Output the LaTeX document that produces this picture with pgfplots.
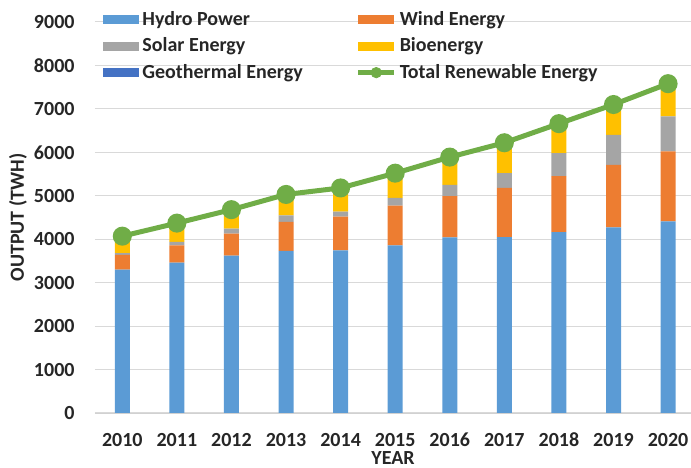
\documentclass[border=0pt]{standalone}
\usepackage{pgfplots}
\pgfplotsset{compat=1.18}
\usepackage{fontspec}
\setmainfont{Carlito}
\definecolor{hydro}{HTML}{5B9BD5}
\definecolor{wind}{HTML}{ED7D31}
\definecolor{solar}{HTML}{A5A5A5}
\definecolor{bio}{HTML}{FFC000}
\definecolor{geo}{HTML}{4472C4}
\definecolor{tot}{HTML}{70AD47}
\pgfplotsset{
  common/.style={
    scale only axis,
    width=298pt, height=195.5pt,
    xmin=-0.5, xmax=10.42,
    ymin=0, ymax=9000,
  }
}
\begin{document}
\begin{tikzpicture}
\begin{axis}[
  common, name=main,
  ytick={0,1000,...,9000},
  xtick={0,...,10},
  xticklabels={2010,2011,2012,2013,2014,2015,2016,2017,2018,2019,2020},
  /pgf/number format/assume math mode=true,
  /pgf/number format/1000 sep={},
  ticklabel style={font=\fontsize{10}{12}\selectfont\bfseries, text=black!85},
  yticklabel style={xshift=-6.7pt},
  xticklabel style={yshift=-6.5pt},
  ymajorgrids, grid style={black!15, line width=0.5pt},
  axis line style={draw=none},
  tick style={draw=none},
  x axis line style={draw=black!18},
  axis x line*=bottom,
  axis y line*=left,
  ylabel={OUTPUT (TWH)},
  every axis y label/.style={at={(axis description cs:0,0.5)}, xshift=-38.5pt, rotate=90, anchor=center,
    font=\fontsize{10}{12}\selectfont\bfseries, text=black!85},
  xlabel={YEAR},
  every axis x label/.style={at={(axis description cs:0.5,0)}, anchor=center, yshift=-22.5pt,
    font=\fontsize{10}{12}\selectfont\bfseries, text=black!85},
  ybar stacked, bar width=7.5pt,
  legend columns=2,
  legend cell align=left,
  legend style={at={(axis description cs:0,1)}, anchor=north west, xshift=4pt, yshift=8pt,
    draw=none, fill=none, inner sep=0pt,
    font=\fontsize{10}{11}\selectfont\bfseries, text=black!85,
    nodes={inner sep=1.5pt, minimum height=13.25pt},
    row sep=0pt,
    /tikz/every even column/.append style={column sep=25pt}},
  area legend,
  legend image code/.code={\fill[#1] (0pt,-2.3pt) rectangle (18pt,2.3pt);},
]
\addplot[fill=hydro, draw=none] coordinates {(0,3300) (1,3460) (2,3620) (3,3730) (4,3740) (5,3860) (6,4040) (7,4050) (8,4160) (9,4270) (10,4410)};
\addlegendentry{Hydro Power}
\addplot[fill=wind, draw=none] coordinates {(0,340) (1,400) (2,510) (3,670) (4,780) (5,910) (6,950) (7,1130) (8,1290) (9,1440) (10,1610)};
\addlegendentry{Wind Energy}
\addplot[fill=solar, draw=none] coordinates {(0,40) (1,80) (2,115) (3,150) (4,115) (5,180) (6,260) (7,340) (8,530) (9,690) (10,810)};
\addlegendentry{Solar Energy}
\addplot[fill=bio, draw=none] coordinates {(0,320) (1,360) (2,365) (3,410) (4,465) (5,490) (6,560) (7,610) (8,590) (9,610) (10,660)};
\addlegendentry{Bioenergy}
\addplot[fill=geo, draw=none] coordinates {(0,70) (1,70) (2,70) (3,70) (4,80) (5,80) (6,80) (7,90) (8,90) (9,90) (10,90)};
\addlegendentry{Geothermal Energy}
\addlegendimage{legend image code/.code={\draw[tot, line width=2.5pt] (0pt,0pt) -- (18pt,0pt); \fill[tot] (9pt,0pt) circle (2.6pt);}}
\addlegendentry{Total Renewable Energy}
\end{axis}
\begin{axis}[common, hide axis]
\addplot[sharp plot, draw=tot, line width=2.5pt, mark=*, mark size=3.5pt, mark options={fill=tot, draw=tot}]
  coordinates {(0,4070) (1,4370) (2,4680) (3,5030) (4,5180) (5,5520) (6,5890) (7,6220) (8,6660) (9,7100) (10,7580)};
\end{axis}
\pgfresetboundingbox
\path ([xshift=-47.5pt,yshift=-27.5pt]main.south west) rectangle ([yshift=11pt]main.north east);
\end{tikzpicture}
\end{document}
